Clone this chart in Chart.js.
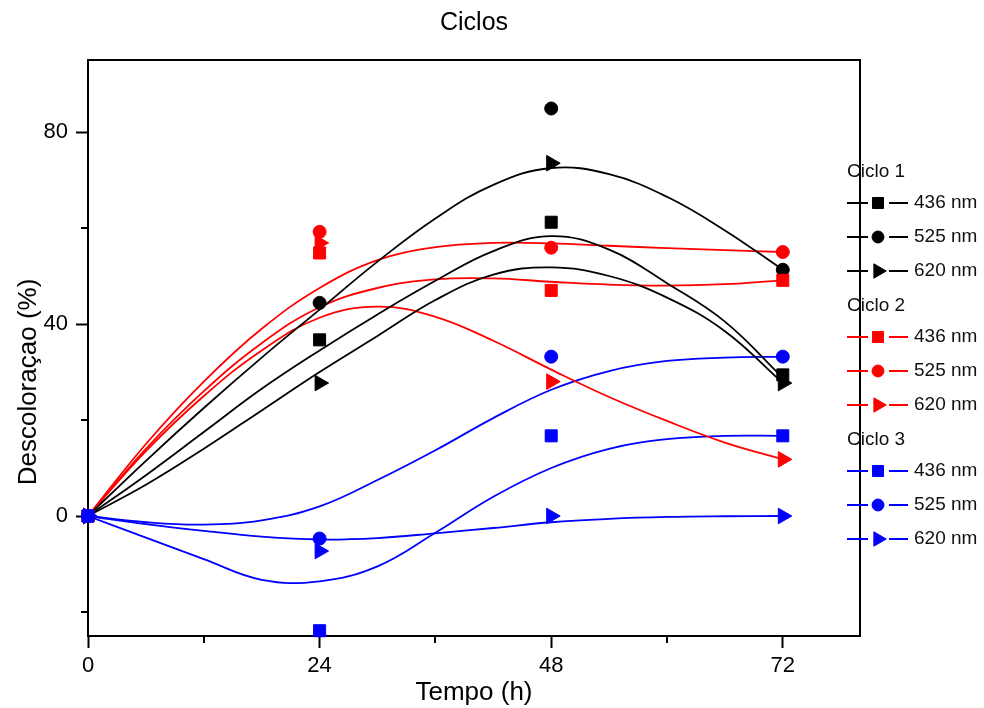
<!DOCTYPE html>
<html>
<head>
<meta charset="utf-8">
<title>Ciclos</title>
<script src="https://cdn.jsdelivr.net/npm/chart.js@4.4.1/dist/chart.umd.min.js"></script>
<style>
  html, body { margin: 0; padding: 0; background: #fff; }
  #wrap { width: 984px; height: 708px; }
</style>
</head>
<body>
<div id="wrap"><canvas id="ciclosChart" width="984" height="708"></canvas></div>
<script>
// Tempos de medição (h)
const tempos = [0, 24, 48, 72];

// Descoloração medida (%) por ciclo e comprimento de onda
const ciclo1_436 = [0, 36.7, 61.2, 29.4];
const ciclo1_525 = [0, 44.4, 84.9, 51.3];
const ciclo1_620 = [0, 27.7, 73.5, 27.7];
const ciclo2_436 = [0, 54.8, 47.0, 49.1];
const ciclo2_525 = [0, 59.2, 55.9, 55.0];
const ciclo2_620 = [0, 56.9, 28.0, 11.8];
const ciclo3_436 = [0, -23.9, 16.7, 16.7];
const ciclo3_525 = [0, -4.7, 33.2, 33.2];
const ciclo3_620 = [0, -7.3, 0, 0];

// Curvas de ajuste, lidas a cada 6 h
const temposAjuste = [0, 6, 12, 18, 24, 30, 36, 42, 48, 54, 60, 66, 72];
const ajuste1_436 = [0, 8.5, 17.5, 26.5, 34.5, 42, 49, 55.2, 58.3, 55.5, 48.5, 40.5, 28.8];
const ajuste1_525 = [0, 11.5, 22.5, 33, 43, 53, 62, 69, 72.5, 71.2, 66.5, 59.5, 51.3];
const ajuste1_620 = [0, 6.5, 14, 22, 30, 37.5, 45, 50.3, 51.8, 50, 45.5, 38.5, 27.7];
const ajuste2_436 = [0, 14, 26, 36, 43.5, 47.5, 49.3, 49.5, 48.8, 48.2, 48, 48.3, 49.1];
const ajuste2_525 = [0, 15, 28, 39, 47.5, 53.3, 56, 56.9, 56.8, 56.3, 55.8, 55.4, 55.0];
const ajuste2_620 = [0, 13.5, 25, 34.5, 41.3, 43.6, 41.5, 36.5, 30.5, 24.8, 19.8, 15.3, 11.8];
const ajuste3_436 = [0, -4.5, -9, -13.3, -13.6, -10.5, -3.5, 4, 10, 14, 16, 16.7, 16.7];
const ajuste3_525 = [0, -1.3, -1.8, -0.9, 2, 7.5, 13.7, 20.4, 26.3, 30.2, 32.3, 33, 33.2];
const ajuste3_620 = [0, -1.7, -3.1, -4.3, -4.9, -4.6, -3.6, -2.5, -1.3, -0.6, -0.2, -0.05, 0];

// Eixos
const xTicks = [0, 24, 48, 72];
const xMinor = [12, 36, 60];
const yTicks = [0, 40, 80];
const yMinor = [-20, 20, 60];

const ciclos = ['Ciclo 1', 'Ciclo 2', 'Ciclo 3'];
const cores = ['#000000', '#ff0000', '#0000ff'];
const ondas = ['436 nm', '525 nm', '620 nm'];

const FONTE = "'Liberation Sans', Arial, Helvetica, sans-serif";

// estilo de marcador por comprimento de onda
const marcadores = [
    { pointStyle: 'rect', radius: 8.5, rotation: 0 },
    { pointStyle: 'circle', radius: 6.5, rotation: 0 },
    { pointStyle: 'triangle', radius: 9, rotation: 90 }
];

const medidas = [
    [ciclo1_436, ciclo1_525, ciclo1_620],
    [ciclo2_436, ciclo2_525, ciclo2_620],
    [ciclo3_436, ciclo3_525, ciclo3_620]
];
const ajustes = [
    [ajuste1_436, ajuste1_525, ajuste1_620],
    [ajuste2_436, ajuste2_525, ajuste2_620],
    [ajuste3_436, ajuste3_525, ajuste3_620]
];

const datasets = [];
ciclos.forEach((ciclo, g) => {
    ondas.forEach((onda, i) => {
        // curva ajustada
        datasets.push({
            label: ciclo + ' ' + onda + ' ajuste',
            data: temposAjuste.map((t, k) => ({ x: t, y: ajustes[g][i][k] })),
            borderColor: cores[g],
            borderWidth: 1.8,
            pointRadius: 0,
            fill: false,
            tension: 0.4,
            order: 10
        });
        // pontos medidos
        const m = marcadores[i];
        datasets.push({
            label: ciclo + ' ' + onda,
            data: tempos.map((t, k) => ({ x: t, y: medidas[g][i][k] })),
            showLine: false,
            backgroundColor: cores[g],
            borderColor: cores[g],
            pointStyle: m.pointStyle,
            pointRadius: m.radius,
            pointRotation: m.rotation,
            pointBorderWidth: 1,
            clip: false,
            order: 3 - g
        });
    });
});

// moldura, marcas secundárias, título do eixo y e legenda agrupada
const extrasPlugin = {
    id: 'extras',
    beforeDatasetsDraw(chart) {
        const { ctx, chartArea: a, scales: { x, y } } = chart;
        ctx.save();
        ctx.strokeStyle = '#000';
        ctx.lineWidth = 2;
        ctx.strokeRect(a.left, a.top, a.right - a.left, a.bottom - a.top);
        ctx.beginPath();
        xMinor.forEach(v => {
            const px = Math.round(x.getPixelForValue(v));
            ctx.moveTo(px, a.bottom);
            ctx.lineTo(px, a.bottom + 7);
        });
        yMinor.forEach(v => {
            const py = Math.round(y.getPixelForValue(v));
            ctx.moveTo(a.left, py);
            ctx.lineTo(a.left - 7, py);
        });
        ctx.stroke();
        ctx.restore();
    },
    afterDraw(chart) {
        const { ctx } = chart;
        ctx.save();

        // título do eixo y
        ctx.translate(29, 382);
        ctx.rotate(-Math.PI / 2);
        ctx.font = '26px ' + FONTE;
        ctx.fillStyle = '#000';
        ctx.textAlign = 'center';
        ctx.textBaseline = 'middle';
        ctx.fillText('Descoloraçao (%)', 0, 0);
        ctx.setTransform(1, 0, 0, 1, 0, 0);

        // legenda
        ctx.textAlign = 'left';
        ctx.textBaseline = 'middle';
        ctx.font = '19px ' + FONTE;
        ciclos.forEach((ciclo, g) => {
            const yTitulo = 172 + 134 * g;
            ctx.fillStyle = '#111';
            ctx.fillText(ciclo, 847, yTitulo);
            ondas.forEach((onda, i) => {
                const yy = yTitulo + 31 + 34 * i;
                ctx.strokeStyle = cores[g];
                ctx.fillStyle = cores[g];
                ctx.lineWidth = 1.8;
                ctx.beginPath();
                ctx.moveTo(847, yy);
                ctx.lineTo(868, yy);
                ctx.moveTo(889, yy);
                ctx.lineTo(908, yy);
                ctx.stroke();
                const m = marcadores[i];
                ctx.lineWidth = 1;
                Chart.helpers.drawPoint(ctx, {
                    pointStyle: m.pointStyle,
                    rotation: m.rotation,
                    radius: m.radius * 0.92,
                    borderWidth: 1
                }, 878, yy);
                ctx.fillStyle = '#111';
                ctx.fillText(onda, 914, yy);
            });
        });
        ctx.restore();
    }
};

new Chart(document.getElementById('ciclosChart'), {
    type: 'line',
    data: { datasets: datasets },
    plugins: [extrasPlugin],
    options: {
        responsive: false,
        animation: false,
        layout: { padding: { left: 0, right: 124, top: 0, bottom: 0 } },
        plugins: {
            legend: { display: false },
            tooltip: { enabled: false },
            title: {
                display: true,
                text: 'Ciclos',
                color: '#000',
                fullSize: false,
                font: { family: FONTE, size: 25, weight: 'normal' },
                padding: { top: 8, bottom: 22 }
            }
        },
        scales: {
            x: {
                type: 'linear',
                min: 0,
                max: 80,
                afterBuildTicks: s => { s.ticks = xTicks.map(v => ({ value: v })); },
                afterFit: s => { s.height = 72; },
                grid: {
                    drawOnChartArea: false,
                    drawTicks: true,
                    tickLength: 12,
                    tickWidth: 2,
                    tickColor: '#000'
                },
                border: { display: false },
                ticks: {
                    color: '#000',
                    padding: 5,
                    maxRotation: 0,
                    font: { family: FONTE, size: 22 }
                },
                title: {
                    display: true,
                    text: 'Tempo (h)',
                    color: '#000',
                    font: { family: FONTE, size: 26 },
                    padding: { top: 0, bottom: 0 }
                }
            },
            y: {
                type: 'linear',
                min: -25,
                max: 95,
                afterBuildTicks: s => { s.ticks = yTicks.map(v => ({ value: v })); },
                afterFit: s => { s.width = 88; },
                grid: {
                    drawOnChartArea: false,
                    drawTicks: true,
                    tickLength: 12,
                    tickWidth: 2,
                    tickColor: '#000'
                },
                border: { display: false },
                ticks: {
                    color: '#000',
                    padding: 8,
                    font: { family: FONTE, size: 22 }
                },
                title: { display: false }
            }
        }
    }
});
</script>
</body>
</html>
